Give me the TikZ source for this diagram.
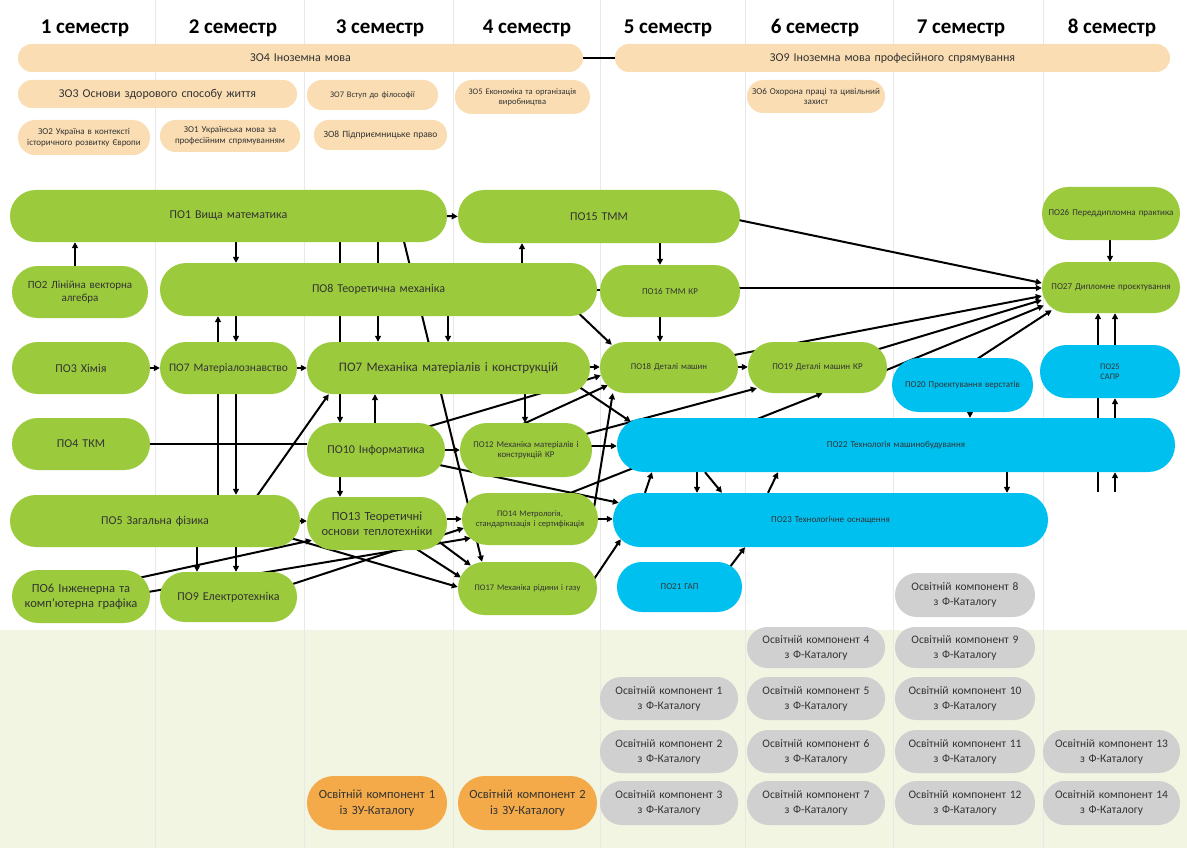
\documentclass[tikz,border=0pt]{standalone}
\usepackage{fontspec}
\setmainfont{Carlito}
\usetikzlibrary{arrows.meta,calc}
\pgfdeclarelayer{bgband}
\pgfdeclarelayer{links}
\pgfsetlayers{bgband,links,main}
\definecolor{peach}{HTML}{FADDB2}
\definecolor{lime}{HTML}{9BCB3C}
\definecolor{sky}{HTML}{00C0F0}
\definecolor{greyc}{HTML}{D0D0D0}
\definecolor{orng}{HTML}{F4AA48}
\definecolor{band}{HTML}{F1F5E2}
\definecolor{divl}{HTML}{E8E8E8}
\definecolor{txt}{HTML}{333333}
\newcommand{\pill}[7]{%
  \pgfmathsetmacro{\pw}{#4-#2}%
  \pgfmathsetmacro{\ph}{#5-#3}%
  \pgfmathsetmacro{\pr}{min(\pw,\ph)/2-0.2}%
  \pgfmathsetmacro{\tw}{max(\pw-6,10)}%
  \node[#6, minimum width=\pw pt, minimum height=\ph pt, rounded corners=\pr pt, text width=\tw pt] (#1) at ({(#2+#4)/2},{(#3+#5)/2}) {#7};}
\newcommand{\fs}[1]{\fontsize{#1}{\the\dimexpr #1pt*6/5\relax}\selectfont}
\tikzset{
  box/.style={inner sep=0pt, align=center, text=txt},
  zo/.style={box, fill=peach},
  po/.style={box, fill=lime},
  pb/.style={box, fill=sky},
  gk/.style={box, fill=greyc, font=\fontsize{11.5}{15}\selectfont},
  ok/.style={box, fill=orng, font=\fontsize{12.5}{16}\selectfont},
  hdr/.style={font=\fontsize{21}{24}\selectfont\bfseries, text=black, inner sep=0pt},
  ln/.style={line width=2pt, black},
  arr/.style={line width=2pt, black, -{Triangle[length=6pt,width=6pt]}},
}
\begin{document}
\begin{tikzpicture}[x=1pt,y=-1pt]
\useasboundingbox (0,0) rectangle (1187,848);
\begin{pgfonlayer}{bgband}
\fill[white] (0,0) rectangle (1187,848);
\fill[band] (0,630) rectangle (1187,848);
\foreach \xx in {155,304,453,600,745,893,1043}{\draw[divl, line width=0.8pt] (\xx,0) -- (\xx,848);}
\end{pgfonlayer}
% headers
\node[hdr] (h1) at (85,28) {1 семестр};
\node[hdr] (h2) at (233,28) {2 семестр};
\node[hdr] (h3) at (380,28) {3 семестр};
\node[hdr] (h4) at (527,28) {4 семестр};
\node[hdr] (h5) at (668,28) {5 семестр};
\node[hdr] (h6) at (815,28) {6 семестр};
\node[hdr] (h7) at (961,28) {7 семестр};
\node[hdr] (h8) at (1112,28) {8 семестр};
% general (ЗО) courses
\pill{zo4}{18}{44}{583}{72}{zo, font=\fs{12}}{ЗО4 Іноземна мова}
\pill{zo9}{615}{44}{1170}{72}{zo, font=\fs{12}}{ЗО9 Іноземна мова професійного спрямування}
\pill{zo3}{18}{80}{297}{108}{zo, font=\fs{12}}{ЗО3 Основи здорового способу життя}
\pill{zo7}{307}{80}{438}{110}{zo, font=\fs{8.5}}{ЗО7 Вступ до філософії}
\pill{zo5}{455}{80}{590}{114}{zo, font=\fs{8.5}}{ЗО5 Економіка та організація\\виробництва}
\pill{zo6}{747}{80}{885}{113}{zo, font=\fs{9}}{ЗО6 Охорона праці та цивільний\\захист}
\pill{zo2}{18}{120}{150}{155}{zo, font=\fs{9}}{ЗО2 Україна в контексті\\історичного розвитку Європи}
\pill{zo1}{160}{120}{300}{152}{zo, font=\fs{9}}{ЗО1 Українська мова за\\професійним спрямуванням}
\pill{zo8}{314}{120}{447}{150}{zo, font=\fs{9.5}}{ЗО8 Підприємницьке право}
% green professional courses
\pill{po1}{10}{190}{447}{242}{po, font=\fs{12}}{ПО1 Вища математика}
\pill{po15}{458}{190}{740}{243}{po, font=\fs{12}}{ПО15 ТММ}
\pill{po26}{1042}{187}{1180}{240}{po, font=\fs{9}}{ПО26 Переддипломна практика}
\pill{po2}{12}{266}{148}{318}{po, font=\fs{11}}{ПО2 Лінійна векторна\\алгебра}
\pill{po8}{160}{263}{597}{316}{po, font=\fs{12}}{ПО8 Теоретична механіка}
\pill{po16}{600}{265}{740}{317}{po, font=\fs{9}}{ПО16 ТММ КР}
\pill{po27}{1042}{262}{1180}{313}{po, font=\fs{9}}{ПО27 Дипломне проєктування}
\pill{po3}{12}{342}{150}{394}{po, font=\fs{12}}{ПО3 Хімія}
\pill{po7a}{160}{342}{297}{394}{po, font=\fs{11.5}}{ПО7 Матеріалознавство}
\pill{po7b}{307}{342}{590}{394}{po, font=\fs{13}}{ПО7 Механіка матеріалів і конструкцій}
\pill{po18}{600}{342}{738}{393}{po, font=\fs{8.8}}{ПО18 Деталі машин}
\pill{po19}{748}{342}{887}{393}{po, font=\fs{9}}{ПО19 Деталі машин КР}
\pill{po20}{892}{358}{1033}{412}{pb, font=\fs{9}}{ПО20 Проєктування верстатів}
\pill{po25}{1040}{345}{1180}{398}{pb, font=\fs{8.5}}{ПО25\\САПР}
\pill{po4}{12}{418}{150}{470}{po, font=\fs{12}}{ПО4 ТКМ}
\pill{po10}{307}{423}{445}{477}{po, font=\fs{12}}{ПО10 Інформатика}
\pill{po12}{460}{423}{592}{477}{po, font=\fs{8.8}}{ПО12 Механіка матеріалів і\\конструкцій КР}
\pill{po22}{617}{418}{1175}{472}{pb, font=\fs{9}}{ПО22 Технологія машинобудування}
\pill{po5}{10}{495}{300}{547}{po, font=\fs{12}}{ПО5 Загальна фізика}
\pill{po13}{307}{497}{447}{550}{po, font=\fs{12.5}}{ПО13 Теоретичні\\основи теплотехніки}
\pill{po14}{462}{493}{598}{545}{po, font=\fs{8.5}}{ПО14 Метрологія,\\стандартизація і сертифікація}
\pill{po23}{613}{493}{1048}{547}{pb, font=\fs{9}}{ПО23 Технологічне оснащення}
\pill{po6}{12}{570}{150}{623}{po, font=\fs{12.5}}{ПО6 Інженерна та\\комп'ютерна графіка}
\pill{po9}{160}{572}{297}{622}{po, font=\fs{12}}{ПО9 Електротехніка}
\pill{po17}{458}{562}{597}{615}{po, font=\fs{8.5}}{ПО17 Механіка рідини і газу}
\pill{po21}{617}{562}{742}{612}{pb, font=\fs{9}}{ПО21 ГАП}
% catalogue components
\pill{k1}{600}{677}{738}{720}{gk}{Освітній компонент 1\\з Ф-Каталогу}
\pill{k2}{600}{730}{738}{773}{gk}{Освітній компонент 2\\з Ф-Каталогу}
\pill{k3}{600}{781}{738}{825}{gk}{Освітній компонент 3\\з Ф-Каталогу}
\pill{k4}{747}{627}{885}{668}{gk}{Освітній компонент 4\\з Ф-Каталогу}
\pill{k5}{747}{677}{885}{720}{gk}{Освітній компонент 5\\з Ф-Каталогу}
\pill{k6}{747}{730}{885}{773}{gk}{Освітній компонент 6\\з Ф-Каталогу}
\pill{k7}{747}{781}{885}{825}{gk}{Освітній компонент 7\\з Ф-Каталогу}
\pill{k8}{895}{573}{1035}{617}{gk}{Освітній компонент 8\\з Ф-Каталогу}
\pill{k9}{895}{627}{1035}{668}{gk}{Освітній компонент 9\\з Ф-Каталогу}
\pill{k10}{895}{677}{1035}{720}{gk}{Освітній компонент 10\\з Ф-Каталогу}
\pill{k11}{895}{730}{1035}{773}{gk}{Освітній компонент 11\\з Ф-Каталогу}
\pill{k12}{895}{781}{1035}{825}{gk}{Освітній компонент 12\\з Ф-Каталогу}
\pill{k13}{1043}{730}{1180}{773}{gk}{Освітній компонент 13\\з Ф-Каталогу}
\pill{k14}{1043}{781}{1180}{825}{gk}{Освітній компонент 14\\з Ф-Каталогу}
\pill{zu1}{307}{776}{447}{830}{ok}{Освітній компонент 1\\із ЗУ-Каталогу}
\pill{zu2}{458}{776}{597}{830}{ok}{Освітній компонент 2\\із ЗУ-Каталогу}
% free ends
\coordinate (f1) at (1098,492);
\coordinate (f2) at (1115,492);
% connectors
\begin{pgfonlayer}{links}
\draw[ln] (zo4.east) -- (zo9.west);
\draw[arr] (po1.east) -- (po15.west);
\draw[arr] (700,212) -- (po27.west |- 0,283);
\draw[arr] (po16.center |- 0,288) -- (po27.west |- 0,288);
\draw[arr] (po18.center) -- (po27.west |- 0,296);
\draw[arr] (po19.center) -- (po27.west |- 0,300);
\draw[arr] (850,385) -- ($(po27.west)+(2,18)$);
\draw[arr] (945,380) -- ($(po27.south west)+(10,-3)$);
\draw[arr] (po26.south -| 1110,0) -- (po27.north -| 1110,0);
\draw[arr] (f1) -- (po27.south -| f1);
\draw[arr] (f2) -- (po22.south -| f2);
\draw[arr] (po22.north -| f2) -- (po25.south -| f2);
\draw[arr] (po25.north -| f2) -- (po27.south -| f2);
\draw[arr] (po2.north -| 75,0) -- (po1.south -| 75,0);
\draw[arr] (po1.south -| 236,0) -- (po8.north -| 236,0);
\draw[arr] (po8.north -| 522,0) -- (po15.south -| 522,0);
\draw[arr] (po15.south -| 660,0) -- (po16.north -| 660,0);
\draw[ln] (po8.center |- 0,290) -- (po16.west |- 0,290);
\draw[arr] (po16.south -| 660,0) -- (po18.north -| 660,0);
\draw[arr] (570,305) -- ($(po18.north west)+(12,3)$);
\draw[arr] (po7b.east |- 0,367) -- (po18.west |- 0,367);
\draw[arr] (po18.east |- 0,367) -- (po19.west |- 0,367);
\draw[arr] (po3.east) -- (po7a.west);
\draw[arr] (po7a.east) -- (po7b.west);
\draw[arr] (po5.north -| 218,0) -- (po8.south -| 218,0);
\draw[arr] (po8.south -| 236,0) -- (po7a.north -| 236,0);
\draw[arr] (po7a.south -| 236,0) -- (po5.north -| 236,0);
\draw[arr] (po5.south -| 197,0) -- (po9.north -| 197,0);
\draw[arr] (po5.south -| 236,0) -- (po9.north -| 236,0);
\draw[arr] (240,520) -- ($(po7b.south west)+(22,0)$);
\draw[arr] (120,582) -- ($(po13.south west)+(5,-10)$);
\draw[arr] (100,600) -- ($(po14.west)+(9,19)$);
\draw[arr] (250,598) -- ($(po14.west)+(2,9)$);
\draw[arr] (540,505) -- ($(po19.south)+(5,0)$);
\draw[arr] (592,520) -- ($(po18.south west)+(13,0)$);
\draw[arr] (430,463) -- ($(po23.north west)+(6,10)$);
\draw[arr] (270,532) -- (po17.west |- 0,587);
\draw[arr] (po5.east) -- (po13.west |- po5.east);
\draw[arr] (po1.south -| 340,0) -- (po10.north -| 340,0);
\draw[arr] (po1.south -| 378,0) -- (po7b.north -| 378,0);
\draw[arr] (po8.south -| 448,0) -- (po7b.north -| 448,0);
\draw[arr] (po10.north -| 375,0) -- (po7b.south -| 375,0);
\draw[arr] (400,225) -- (po17.north -| 482,0);
\draw[arr] (po10.south -| 340,0) -- (po13.north -| 340,0);
\draw[arr] (po7b.south -| 525,0) -- (po12.north -| 525,0);
\draw[arr] (510,430) -- ($(po18.south west)+(8,-8)$);
\draw[arr] (400,435) -- ($(po18.west)+(1,8)$);
\draw[arr] (560,374) -- ($(po22.north west)+(14,4)$);
\draw[arr] (po12.center) -- ($(po19.south west)+(9,-5)$);
\draw[arr] (po12.center |- 0,446) -- (po22.west |- 0,446);
\draw[arr] (po10.east) -- (po12.west);
\draw[ln] (po4.east) -- (po10.west |- po4.east);
\draw[arr] (po13.east |- po14.west) -- (po14.west);
\draw[arr] (415,548) -- ($(po17.west)+(3,-11)$);
\draw[arr] (430,535) -- ($(po17.west)+(13,-23)$);
\draw[arr] (po14.east) -- (po23.west |- po14.east);
\draw[arr] (580,600) -- ($(po23.south west)+(8,-8)$);
\draw[arr] (720,580) -- (po23.south -| 745,0);
\draw[arr] (po23.north -| 645,0) -- (po22.south -| 652,0);
\draw[arr] (po22.south -| 697,0) -- (po23.north -| 697,0);
\draw[arr] (po22.south -| 705,0) -- (po23.north -| 722,0);
\draw[arr] (po23.north -| 768,0) -- (po22.south -| 778,0);
\draw[arr] (po22.south -| 1007,0) -- (po23.north -| 1007,0);
\draw[arr] (po20.south -| 970,0) -- (po22.north -| 970,0);
\end{pgfonlayer}
\end{tikzpicture}
\end{document}
